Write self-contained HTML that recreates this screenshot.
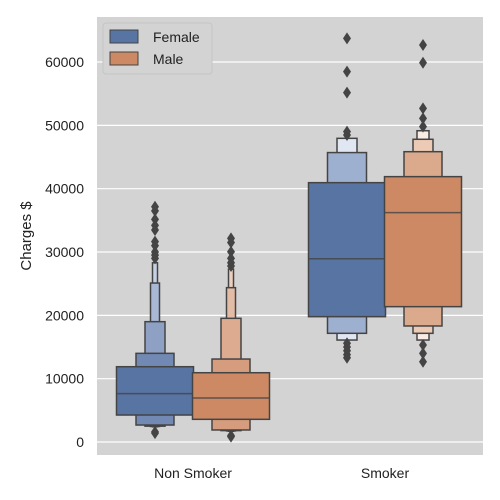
<!DOCTYPE html>
<html><head><meta charset="utf-8"><style>
body{margin:0;background:#fff;}
svg{display:block;font-family:"Liberation Sans","DejaVu Sans",sans-serif;}
</style></head><body>
<svg id="c" width="500" height="500">
<rect x="97" y="17" width="386" height="438" fill="#d3d3d3"/>
<g id="grid"></g><g id="marks"></g><g id="ticks"></g>
<text x="31" y="236" font-size="15" fill="#222" text-anchor="middle" transform="rotate(-90 31 236)">Charges $</text>
<g>
<rect x="103" y="23" width="109" height="51" fill="#d3d3d3" stroke="#c4c4c4" rx="3"/>
<g><rect x="110" y="30" width="28" height="13" fill="#5874a2" stroke="#444" stroke-width="1"/><text x="153" y="42" font-size="14" fill="#222">Female</text></g>
<g><rect x="110" y="52" width="28" height="13" fill="#cc8963" stroke="#444" stroke-width="1"/><text x="153" y="64" font-size="14" fill="#222">Male</text></g>
</g>
</svg>
<script>
const categories=["Non Smoker","Smoker"];
const hues=["Female","Male"];
const yTicks=[0,10000,20000,30000,40000,50000,60000];
// levels: [lower, upper] from innermost box outward
const levelsNSF=[[4260,11890],[2680,14000],[2500,19000],[2450,25100],[2400,28300]];
const levelsNSM=[[3580,10940],[1900,13100],[1800,19530],[1750,24370],[1700,27300]];
const levelsSF=[[19790,40950],[17160,45700],[16100,47950]];
const levelsSM=[[21370,41900],[18320,45840],[17160,47800],[16100,49150]];
const medians=[[7630,6950],[28940,36210]];
const outliersNSF=[37150,36500,35160,34200,33470,31630,31000,30000,29500,29000,1400,1600];
const outliersNSM=[32160,31500,30050,29000,28300,27800,840,1000];
const outliersSF=[63740,58480,55160,49000,48480,15600,15000,14400,13800,13300];
const outliersSM=[62680,59890,52690,51110,49790,15320,14000,12680];
const groups=[[levelsNSF,levelsNSM],[levelsSF,levelsSM]];
const outs=[[outliersNSF,outliersNSM],[outliersSF,outliersSM]];
const levelWidths=[77,38,20,9,5];
const levelWidthsS=[[77,39,20],[77,38,20,12]];
const fillsNS=[["#5874a2","#7289b3","#8ea1c4","#a9b8d5","#c6d0e5"],["#cc8963","#d59d7d","#dcab90","#e3bca5","#ecd0bf"]];
const fillsS=[["#5874a2","#9eb0cf","#e1e7f2"],["#cc8963","#dba98c","#eccab6","#f8ece5"]];
const y=v=>442-v*0.006333;
const xC=i=>193+i*192;
const NS="http://www.w3.org/2000/svg";
const mk=(t,a,p)=>{const e=document.createElementNS(NS,t);for(const k in a)e.setAttribute(k,a[k]);p.appendChild(e);return e;};
const grid=document.getElementById('grid'),marks=document.getElementById('marks'),ticks=document.getElementById('ticks');
yTicks.forEach(t=>{
 const l=mk('line',{x1:97,x2:483,y1:y(t),y2:y(t),stroke:'#fff','stroke-width':1.2},grid);
 
 
 const tx=mk('text',{x:84,y:y(t)+5,'font-size':14,fill:'#222','text-anchor':'end'},ticks);
 tx.textContent=t;
 
 
});
categories.forEach((c,ci)=>{
 const tx=mk('text',{x:xC(ci),y:478,'font-size':14,fill:'#222','text-anchor':'middle'},ticks);
 tx.textContent=c;
 
 
 hues.forEach((h,hi)=>{
  const cx=xC(ci)+(hi?38:-38);
  const lv=groups[ci][hi];
  const ws=ci===0?levelWidths:levelWidthsS[hi];
  const fl=ci===0?fillsNS[hi]:fillsS[hi];
  for(let k=lv.length-1;k>=0;k--){
   const w=ws[k];
   const r=mk('rect',{x:cx-w/2,y:y(lv[k][1]),width:w,height:y(lv[k][0])-y(lv[k][1]),fill:fl[k],stroke:'#444','stroke-width':1.5},marks);
   
   
  }
  const m=mk('line',{x1:cx-38.5,x2:cx+38.5,y1:y(medians[ci][hi]),y2:y(medians[ci][hi]),stroke:'#444','stroke-opacity':0.8,'stroke-width':1.5},marks);
  
  
  outs[ci][hi].forEach(v=>{
   const yy=y(v);
   const d=mk('path',{d:`M${cx} ${yy-6}L${cx+4} ${yy}L${cx} ${yy+6}L${cx-4} ${yy}Z`,fill:'#444'},marks);
   
   
  });
 });
});
</script>
</body></html>
